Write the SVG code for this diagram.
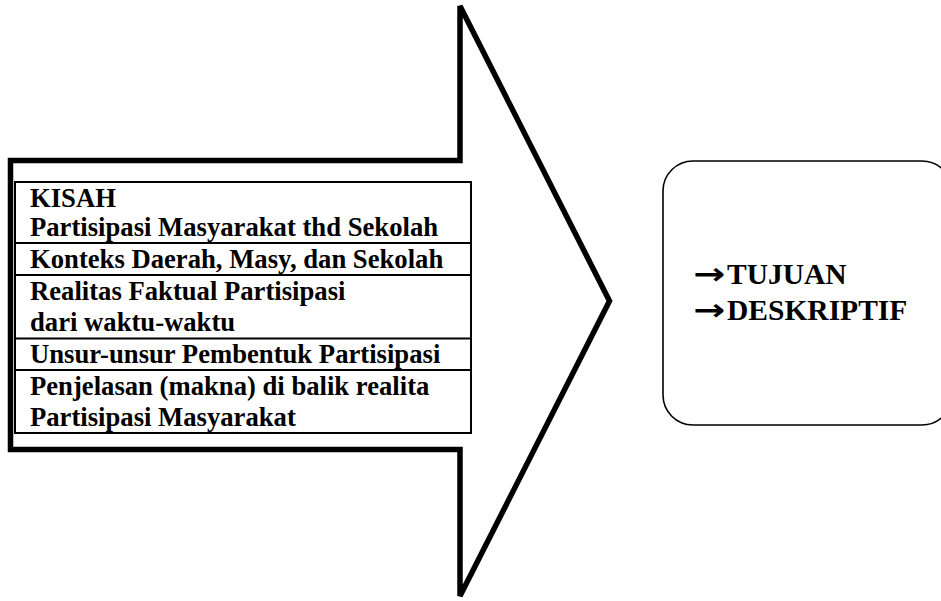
<svg xmlns="http://www.w3.org/2000/svg" width="941" height="601" viewBox="0 0 941 601">
<style>
.t{font-family:"Liberation Serif","Times New Roman",serif;font-weight:bold;font-size:26.67px;fill:#000}
.r{font-family:"Liberation Serif","Times New Roman",serif;font-weight:bold;font-size:29.5px;fill:#000}
.a{font-family:"DejaVu Sans",sans-serif;font-weight:bold;font-size:30px;fill:#000}
.ln{stroke:#000;stroke-width:2;fill:none}
</style>
<rect width="941" height="601" fill="#fff"/>
<g id="arrow">
<polygon points="10.5,160.5 460,160.5 460,6 609.5,301 460,596 460,449.5 10.5,449.5" fill="#fff" stroke="#000" stroke-width="5.5"/>
</g>
<g id="table">
<rect x="15" y="182" width="456" height="251" fill="#fff" class="ln"/>
<line x1="15" y1="243" x2="471" y2="243" class="ln"/>
<line x1="15" y1="275" x2="471" y2="275" class="ln"/>
<line x1="15" y1="338.5" x2="471" y2="338.5" class="ln"/>
<line x1="15" y1="370" x2="471" y2="370" class="ln"/>
<text class="t" x="30" y="207">KISAH</text>
<text class="t" x="30" y="236">Partisipasi Masyarakat thd Sekolah</text>
<text class="t" x="30" y="268">Konteks Daerah, Masy, dan Sekolah</text>
<text class="t" x="30" y="300">Realitas Faktual Partisipasi</text>
<text class="t" x="30" y="331">dari waktu-waktu</text>
<text class="t" x="30" y="363">Unsur-unsur Pembentuk Partisipasi</text>
<text class="t" x="30" y="395">Penjelasan (makna) di balik realita</text>
<text class="t" x="30" y="426">Partisipasi Masyarakat</text>
</g>
<g id="goal">
<rect x="663" y="161" width="289" height="264" rx="30" ry="30" fill="#fff" stroke="#000" stroke-width="1.6"/>
<text y="284"><tspan class="a" x="693" textLength="32" lengthAdjust="spacingAndGlyphs">→</tspan><tspan class="r" x="727">TUJUAN</tspan></text>
<text y="320"><tspan class="a" x="693" textLength="32" lengthAdjust="spacingAndGlyphs">→</tspan><tspan class="r" x="727">DESKRIPTIF</tspan></text>
</g>
<g id="connectors"></g>
</svg>
